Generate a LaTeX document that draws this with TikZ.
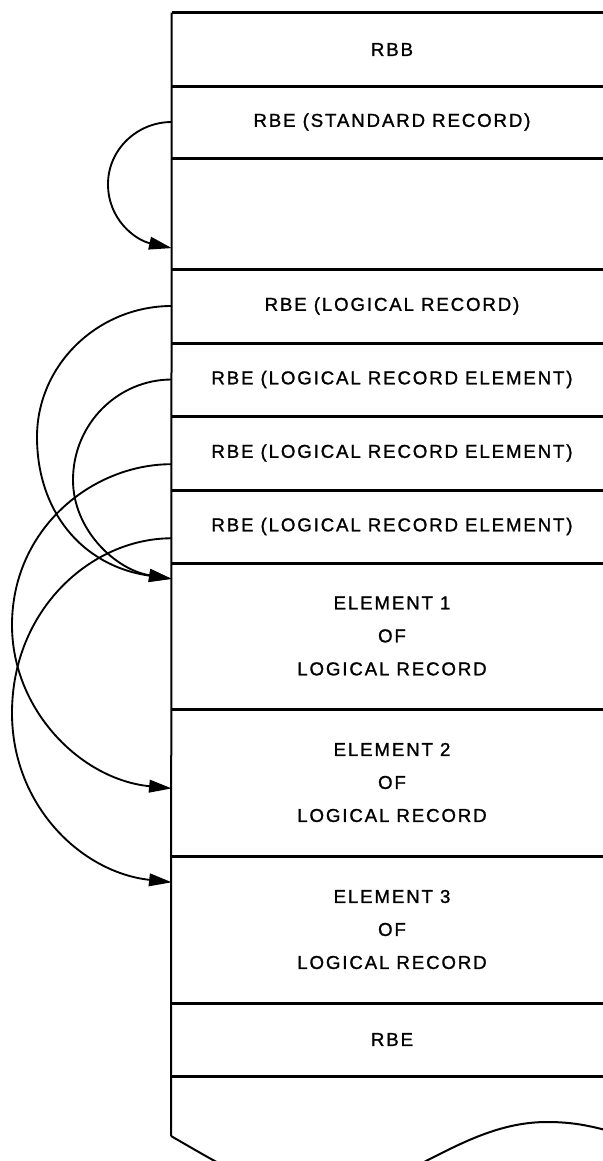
\documentclass[tikz,border=0pt]{standalone}
\usepackage{fontspec}
\newfontfamily\lblfont{Liberation Sans}[LetterSpace=10, FakeBold=1.2]
\usetikzlibrary{arrows.meta,calc}
\begin{document}
\begin{tikzpicture}[x=0.75pt,y=-0.75pt,
  row/.style={minimum width=330pt, inner sep=0pt, align=center, anchor=center,
    font={\lblfont\fontsize{14}{24.75}\selectfont}},
  frame/.style={line width=1.5pt},
  sepline/.style={line width=2pt},
  link/.style={line width=1.4pt, -{Triangle[length=17pt,width=9.5pt]}},
]
\useasboundingbox (0,0) rectangle (603,1161);
\clip (0,0) rectangle (603,1161);

% rows
\node[row, minimum height=54.75pt] (rbb)   at (392,49.5)  {RBB};
\node[row, minimum height=54pt]    (rbestd) at (392,122)  {RBE (STANDARD RECORD)};
\node[row, minimum height=83.25pt] (empty) at (392,213.5) {};
\node[row, minimum height=55.5pt]  (lr)    at (392,306)   {RBE (LOGICAL RECORD)};
\node[row, minimum height=54.75pt] (lre1)  at (392,379.5) {RBE (LOGICAL RECORD ELEMENT)};
\node[row, minimum height=55.5pt]  (lre2)  at (392,453)   {RBE (LOGICAL RECORD ELEMENT)};
\node[row, minimum height=54.75pt] (lre3)  at (392,526.5) {RBE (LOGICAL RECORD ELEMENT)};
\node[row, minimum height=109.5pt] (e1)    at (392,636)   {ELEMENT 1\\OF\\LOGICAL RECORD};
\node[row, minimum height=110.25pt] (e2)   at (392,782.5) {ELEMENT 2\\OF\\LOGICAL RECORD};
\node[row, minimum height=110.25pt] (e3)   at (392,929.5) {ELEMENT 3\\OF\\LOGICAL RECORD};
\node[row, minimum height=54.75pt] (rbe)   at (392,1039.5) {RBE};
\coordinate (tailcorner) at (171,1136);

% frame
\draw[sepline] (rbb.north west) -- ++(460,0);
\foreach \r in {rbb,rbestd,empty,lr,lre1,lre2,lre3,e1,e2,e3,rbe}
  \draw[sepline] (\r.south west) -- ++(460,0);
\draw[frame] (rbb.north west) -- (tailcorner);
\draw[frame] (tailcorner) .. controls +(59,34) and +(-50,0) .. (320,1195)
  .. controls +(80,0) and +(-87,0) .. (547,1122)
  .. controls +(33,0) and +(-40,-12) .. (640,1140);

% connector end points
\coordinate (emptyin) at ($(empty.north west)!0.81!(empty.south west)$);
\coordinate (lre2out) at ($(lre2.north west)!0.65!(lre2.south west)$);
\coordinate (lre3out) at ($(lre3.north west)!0.66!(lre3.south west)$);
\coordinate (e1in) at ($(e1.north west)!0.11!(e1.south west)$);
\coordinate (e2in) at ($(e2.north west)!0.54!(e2.south west)$);
\coordinate (e3in) at ($(e3.north west)!0.18!(e3.south west)$);

% connectors
\draw[link] (rbestd.west) .. controls +(-35,0) and +(0,-34) .. (108,184)
  .. controls +(0,36) and +(-36,-8) .. (emptyin);
\draw[link] (lr.west) .. controls +(-74,0) and +(0,-72) .. (37,437)
  .. controls +(0,73) and +(-91,-13) .. (e1in);
\draw[link] (lre1.west) .. controls +(-54,0) and +(0,-56) .. (73,480)
  .. controls +(0,50) and +(-56,-9) .. (e1in);
\draw[link] (lre2out) .. controls +(-81,0) and +(0,-95) .. (12,625)
  .. controls +(0,85) and +(-91,-9) .. (e2in);
\draw[link] (lre3out) .. controls +(-81,0) and +(0,-103) .. (12,713)
  .. controls +(0,92) and +(-91,-10) .. (e3in);
\end{tikzpicture}
\end{document}
